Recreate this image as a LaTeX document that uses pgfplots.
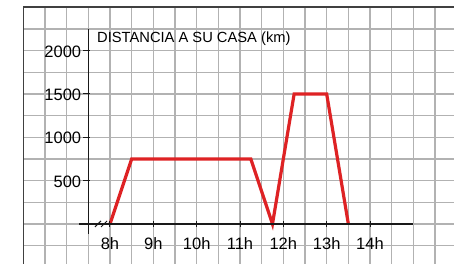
\documentclass[border=0pt]{standalone}
\usepackage{pgfplots}
\pgfplotsset{compat=1.18}
\usepackage{fontspec}
\setmainfont{Liberation Sans}
\definecolor{gridgray}{gray}{0.70}
\definecolor{redline}{RGB}{222,34,36}
\begin{document}
\begin{tikzpicture}
\useasboundingbox (-23.33pt,0pt) rectangle (430.67pt,264pt);
\begin{axis}[
  x=43.333pt, y=0.086667pt,
  xmin=6, xmax=15.938, ymin=-462, ymax=2500,
  axis x line*=top, axis y line*=left,
  axis line style={line width=1.6pt, black!75},
  xtick={6,6.5,...,15.5}, ytick={-250,0,...,2500},
  xticklabels={}, yticklabels={},
  major tick length=0pt,
  grid=major,
  major grid style={line width=1.2pt, gridgray},
  clip=false,
]
% journey
\addplot[line width=3.2pt, redline, line join=miter] coordinates {
  (8,0) (8.5,750) (11.25,750) (11.75,0) (12.25,1500) (13,1500) (13.5,0)
};
% axes
\draw[line width=1.3pt, black!90] (axis cs:7.285,0) -- (axis cs:15,0);
\draw[line width=1.3pt, black!90] (axis cs:7.5,-115) -- (axis cs:7.5,2250);
% break marks
\draw[line width=1pt, black!90] (axis cs:7.723,0) ++(-3pt,-3pt) -- ++(6pt,6pt);
\draw[line width=1pt, black!90] (axis cs:7.862,0) ++(-3pt,-3pt) -- ++(6pt,6pt);
% y ticks and labels
\pgfplotsinvokeforeach{500,1000,1500,2000}{
  \draw[line width=1pt, black!90] (axis cs:7.5,#1) ++(-5pt,0pt) -- ++(7pt,0pt);
  \node[anchor=east, inner sep=0pt, font=\fontsize{16.5}{19}\selectfont, xshift=-7pt, yshift=-1pt] at (axis cs:7.5,#1) {#1};
}
% x ticks and labels
\pgfplotsinvokeforeach{8,9,10,11,12,13,14}{
  \draw[line width=1pt, black!90] (axis cs:#1,0) ++(0pt,-3pt) -- ++(0pt,6pt);
  \node[anchor=north, inner sep=0pt, font=\fontsize{16.5}{19}\selectfont, yshift=-13pt] at (axis cs:#1,0) {#1h};
}
% title
\node[anchor=base west, inner sep=0pt, font=\fontsize{14.7}{17}\selectfont] at (axis cs:7.7,2096) {DISTANCIA A SU CASA (km)};
\end{axis}
\end{tikzpicture}
\end{document}
